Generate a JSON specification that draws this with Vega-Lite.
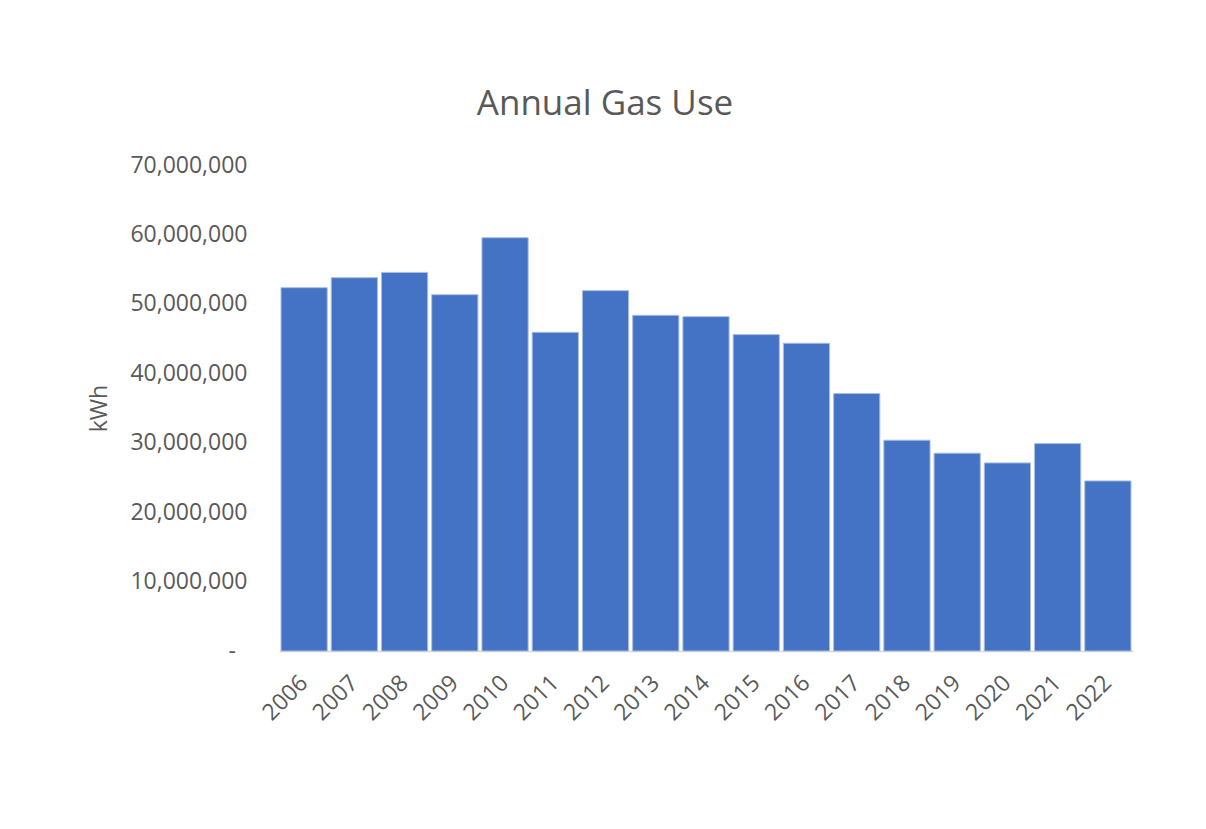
{
  "$schema": "https://vega.github.io/schema/vega-lite/v6.json",
  "autosize": {"type": "none"},
  "width": 854,
  "height": 486,
  "padding": {"left": 279, "top": 165, "right": 73, "bottom": 178},
  "background": "#ffffff",
  "config": {
    "view": {"stroke": null},
    "font": "Open Sans"
  },
  "title": {
    "text": "Annual Gas Use",
    "fontSize": 35,
    "fontWeight": "normal",
    "color": "#595959",
    "font": "Open Sans",
    "anchor": "middle",
    "dx": -101,
    "baseline": "alphabetic",
    "offset": 4
  },
  "data": {
    "values": [
      {"year": "2006", "kwh": 52330000},
      {"year": "2007", "kwh": 53770000},
      {"year": "2008", "kwh": 54530000},
      {"year": "2009", "kwh": 51320000},
      {"year": "2010", "kwh": 59530000},
      {"year": "2011", "kwh": 45900000},
      {"year": "2012", "kwh": 51900000},
      {"year": "2013", "kwh": 48350000},
      {"year": "2014", "kwh": 48160000},
      {"year": "2015", "kwh": 45570000},
      {"year": "2016", "kwh": 44320000},
      {"year": "2017", "kwh": 37080000},
      {"year": "2018", "kwh": 30360000},
      {"year": "2019", "kwh": 28490000},
      {"year": "2020", "kwh": 27090000},
      {"year": "2021", "kwh": 29880000},
      {"year": "2022", "kwh": 24500000}
    ]
  },
  "mark": {"type": "bar", "color": "#4472C4", "stroke": "#a9bde3", "strokeWidth": 1},
  "encoding": {
    "x": {
      "field": "year",
      "type": "ordinal",
      "scale": {"paddingInner": 0.08, "paddingOuter": 0.04},
      "axis": {
        "title": null,
        "labelAngle": -45,
        "labelAlign": "right",
        "labelBaseline": "middle",
        "labelPadding": 28,
        "labelFontSize": 23,
        "labelColor": "#595959",
        "labelFont": "Open Sans",
        "ticks": false,
        "domainColor": "#d9d9d9",
        "domainWidth": 1.5
      }
    },
    "y": {
      "field": "kwh",
      "type": "quantitative",
      "scale": {"domain": [0, 70000000], "nice": false},
      "axis": {
        "title": "kWh",
        "titleFontSize": 23,
        "titleFontWeight": "normal",
        "titleColor": "#595959",
        "titleFont": "Open Sans",
        "titleX": -180,
        "titleBaseline": "middle",
        "values": [0, 10000000, 20000000, 30000000, 40000000, 50000000, 60000000, 70000000],
        "labelExpr": "datum.value == 0 ? '-\u2002\u200b' : format(datum.value, ',')",
        "labelFontSize": 23,
        "labelColor": "#595959",
        "labelFont": "Open Sans",
        "labelPadding": 32,
        "grid": false,
        "domain": false,
        "ticks": false
      }
    }
  }
}
